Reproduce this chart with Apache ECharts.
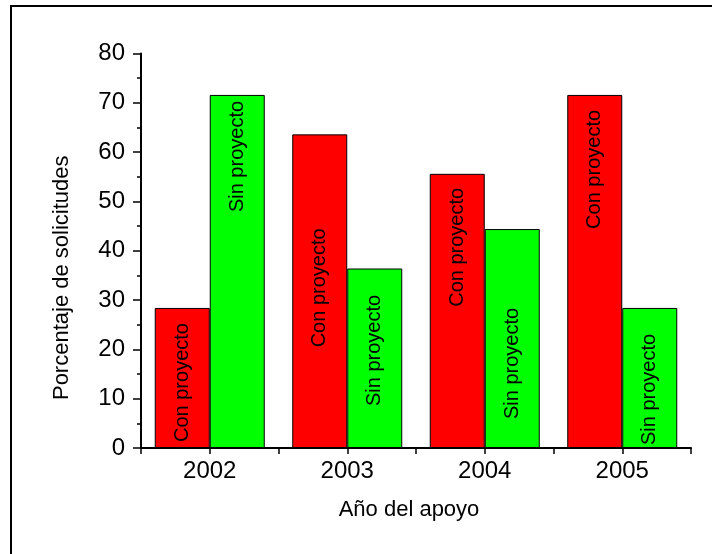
<!DOCTYPE html>
<html>
<head>
<meta charset="utf-8">
<style>html,body{margin:0;padding:0;background:#fff}#c{width:712px;height:554px}</style>
<script src="https://cdn.jsdelivr.net/npm/echarts@6/dist/echarts.min.js"></script>
</head>
<body>
<div id="c"></div>
<script>
var years = ['2002', '2003', '2004', '2005'];
var conProyecto = [28.4, 63.6, 55.6, 71.6];
var sinProyecto = [71.6, 36.4, 44.4, 28.4];
var yTicks = [0, 10, 20, 30, 40, 50, 60, 70, 80];
var seriesNames = ['Con proyecto', 'Sin proyecto'];

// label placement (style, not data)
var conLabelPos = [['insideBottom', 6], ['insideTop', 94], ['insideTop', 14], ['insideTop', 15]];
var sinLabelPos = [['insideTop', 6], ['insideBottom', 42], ['insideBottom', 29], ['insideBottom', 3]];

var FONT = '"Liberation Sans", Arial, sans-serif';

function buildData(vals, pos, name) {
  return vals.map(function (v, i) {
    var p = pos[i];
    return {
      value: v,
      label: {
        show: true,
        formatter: name,
        position: p[0],
        distance: p[1],
        rotate: 90,
        align: p[0] === 'insideBottom' ? 'left' : 'right',
        verticalAlign: 'middle',
        color: '#000',
        fontSize: 20,
        fontFamily: FONT
      }
    };
  });
}

var chart = echarts.init(document.getElementById('c'));
chart.setOption({
  animation: false,
  backgroundColor: '#fff',
  graphic: [{
    type: 'rect',
    shape: { x: 11, y: 6, width: 800, height: 700 },
    style: { fill: 'none', stroke: '#000', lineWidth: 2 },
    silent: true
  }],
  grid: { left: 141, right: 21, top: 53.5, bottom: 106 },
  xAxis: [{
    type: 'category',
    data: years,
    name: 'Año del apoyo',
    nameLocation: 'middle',
    nameGap: 51,
    nameTextStyle: { fontSize: 22, fontFamily: FONT, color: '#000', padding: [0, 14, 0, 0] },
    axisLine: { lineStyle: { color: '#000', width: 2 } },
    axisTick: { show: false },
    axisLabel: { fontSize: 24, fontFamily: FONT, color: '#000', margin: 11 }
  }, {
    type: 'value',
    position: 'bottom',
    min: 0, max: 8, interval: 1,
    axisLine: { show: false },
    axisTick: { show: true, length: 6, lineStyle: { color: '#000', width: 1.5 } },
    axisLabel: { show: false },
    splitLine: { show: false }
  }],
  yAxis: {
    type: 'value',
    min: yTicks[0], max: yTicks[yTicks.length - 1], interval: 10,
    name: 'Porcentaje de solicitudes',
    nameLocation: 'middle',
    nameGap: 68,
    nameTextStyle: { fontSize: 22, fontFamily: FONT, color: '#000', padding: [0, 54, 0, 0] },
    axisLine: { show: true, lineStyle: { color: '#000', width: 2 } },
    axisTick: { show: true, length: 8, lineStyle: { color: '#000', width: 1.5 } },
    minorTick: { show: true, splitNumber: 2, length: 4, lineStyle: { color: '#000', width: 1.5 } },
    splitLine: { show: false },
    axisLabel: { fontSize: 24, fontFamily: FONT, color: '#000', margin: 16 }
  },
  series: [{
    name: seriesNames[0],
    type: 'bar',
    xAxisIndex: 0,
    data: buildData(conProyecto, conLabelPos, seriesNames[0]),
    barGap: '0%',
    barCategoryGap: '20%',
    itemStyle: { color: '#ff0000', borderColor: '#000', borderWidth: 1 }
  }, {
    name: seriesNames[1],
    type: 'bar',
    xAxisIndex: 0,
    data: buildData(sinProyecto, sinLabelPos, seriesNames[1]),
    barGap: '0%',
    barCategoryGap: '20%',
    itemStyle: { color: '#00ff00', borderColor: '#000', borderWidth: 1 }
  }]
});
</script>
</body>
</html>
